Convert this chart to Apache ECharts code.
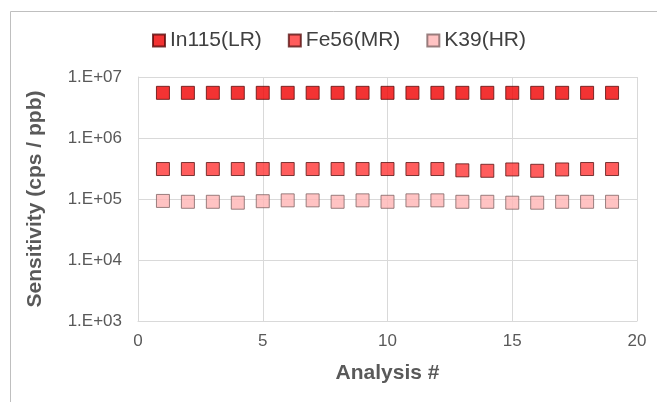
<!DOCTYPE html>
<html>
<head>
<meta charset="utf-8">
<script src="https://cdn.jsdelivr.net/npm/echarts@6/dist/echarts.min.js"></script>
<style>
  html, body { margin: 0; padding: 0; background: #fff; }
  #chart { width: 657px; height: 402px; }
</style>
</head>
<body>
<div id="chart"></div>
<script>
// analysis number 1..19
const analysis = [1, 2, 3, 4, 5, 6, 7, 8, 9, 10, 11, 12, 13, 14, 15, 16, 17, 18, 19]
const in115 = [5.5e6, 5.5e6, 5.5e6, 5.5e6, 5.5e6, 5.5e6, 5.5e6, 5.5e6, 5.5e6, 5.5e6,
  5.5e6, 5.5e6, 5.5e6, 5.5e6, 5.5e6, 5.5e6, 5.5e6, 5.5e6, 5.5e6]
const fe56 = [3.1e5, 3.1e5, 3.1e5, 3.1e5, 3.1e5, 3.1e5, 3.1e5, 3.1e5, 3.1e5, 3.1e5,
  3.1e5, 3.1e5, 2.95e5, 2.9e5, 3.05e5, 2.9e5, 3.05e5, 3.1e5, 3.1e5]
const k39 = [9.3e4, 9.0e4, 9.0e4, 8.7e4, 9.2e4, 9.5e4, 9.5e4, 9.0e4, 9.5e4, 9.0e4,
  9.5e4, 9.5e4, 9.0e4, 9.0e4, 8.7e4, 8.7e4, 9.0e4, 9.0e4, 9.0e4]
const seriesNames = ['In115(LR)', 'Fe56(MR)', 'K39(HR)']

const chart = echarts.init(document.getElementById('chart'))

const pairs = (ys) => analysis.map((x, i) => [x, ys[i]])
const gridColor = '#d9d9d9'
const textColor = '#595959'
const font = 'Liberation Sans, Arial, sans-serif'

const makeSeries = (name, data, fill, border) => ({
  name,
  type: 'scatter',
  symbol: 'rect',
  symbolSize: 13,
  data: pairs(data),
  itemStyle: { color: fill, borderColor: border, borderWidth: 1 }
})

chart.setOption({
  animation: false,
  backgroundColor: '#fff',
  textStyle: { fontFamily: font },
  graphic: [
    { type: 'line', shape: { x1: 10.5, y1: 11.5, x2: 657, y2: 11.5 }, style: { stroke: '#bfbfbf', lineWidth: 1 } },
    { type: 'line', shape: { x1: 10.5, y1: 11.5, x2: 10.5, y2: 402 }, style: { stroke: '#bfbfbf', lineWidth: 1 } }
  ],
  legend: {
    data: seriesNames,
    left: 147,
    top: 25,
    icon: 'rect',
    itemWidth: 12,
    itemHeight: 12,
    itemGap: 26,
    textStyle: { color: '#404040', fontSize: 21, fontFamily: font }
  },
  grid: { left: 138, right: 20, top: 77, bottom: 81 },
  xAxis: {
    type: 'value',
    min: 0,
    max: 20,
    interval: 5,
    name: 'Analysis #',
    nameLocation: 'middle',
    nameGap: 42,
    nameTextStyle: { color: textColor, fontSize: 21, fontWeight: 'bold', fontFamily: font },
    axisLine: { show: true, lineStyle: { color: gridColor } },
    axisTick: { show: false },
    axisLabel: { color: textColor, fontSize: 17, margin: 12 },
    splitLine: { show: true, lineStyle: { color: gridColor } }
  },
  yAxis: {
    type: 'log',
    logBase: 10,
    min: 1e3,
    max: 1e7,
    name: 'Sensitivity (cps / ppb)',
    nameLocation: 'middle',
    nameGap: 92,
    nameTextStyle: { color: textColor, fontSize: 21, fontWeight: 'bold', fontFamily: font },
    axisLine: { show: true, lineStyle: { color: gridColor } },
    axisTick: { show: false },
    axisLabel: {
      color: textColor,
      fontSize: 17,
      margin: 16,
      formatter: (v) => '1.E+' + String(Math.round(Math.log10(v))).padStart(2, '0')
    },
    splitLine: { show: true, lineStyle: { color: gridColor } }
  },
  series: [
    makeSeries(seriesNames[0], in115, '#f00000', '#5a0a0a'),
    makeSeries(seriesNames[1], fe56, '#ff3535', '#5a1414'),
    makeSeries(seriesNames[2], k39, '#ffb4b4', '#806464')
  ]
})
</script>
</body>
</html>
